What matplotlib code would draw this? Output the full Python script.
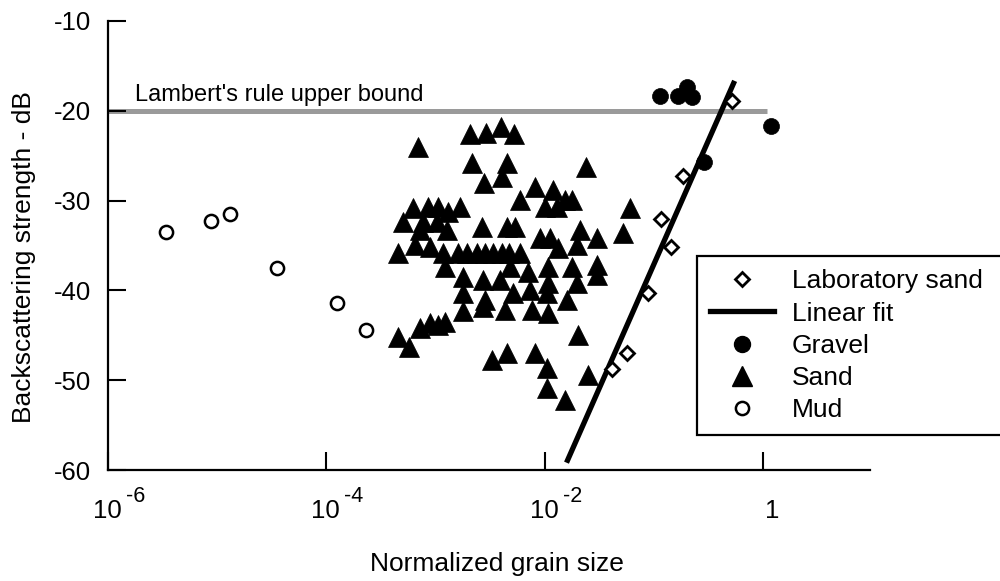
import numpy as np
import matplotlib
matplotlib.use("Agg")
import matplotlib.pyplot as plt
from matplotlib.lines import Line2D
from matplotlib.ticker import NullLocator, FixedLocator

plt.rcParams['font.family'] = ['Liberation Sans', 'DejaVu Sans']
plt.rcParams['axes.unicode_minus'] = False

# ---------------- data (log10 of normalized grain size, dB) ----------------
mud_log10_x = [-5.47, -5.06, -4.88, -4.45, -3.90, -3.64]
mud_db = [-33.5, -32.3, -31.5, -37.5, -41.4, -44.4]

gravel_log10_x = [-0.94, -0.78, -0.70, -0.65, -0.54, 0.07]
gravel_db = [-18.35, -18.35, -17.35, -18.46, -25.7, -21.7]

lab_sand_log10_x = [-0.28, -0.73, -0.93, -0.84, -1.05, -1.25, -1.38]
lab_sand_db = [-18.9, -27.3, -32.0, -35.2, -40.3, -47.0, -48.8]

sand_log10_x = [-2.685, -2.538, -2.401, -2.282, -3.161, -2.667, -2.557, -2.346, -2.392, -1.623,
                -2.090, -1.925, -2.227, -1.815, -1.751, -1.998, -1.888, -1.220, -3.207, -3.070,
                -2.978, -2.886, -2.777, -3.299, -3.115, -2.987, -2.575, -2.346, -2.273, -3.143,
                -2.896, -2.044, -1.952, -1.678, -1.522, -1.284, -3.344, -3.189, -3.051, -2.932,
                -2.795, -2.712, -2.621, -2.548, -2.474, -2.392, -2.330, -2.227, -1.879, -1.705,
                -2.914, -2.749, -2.566, -2.410, -2.319, -2.154, -1.971, -1.751, -1.522, -1.522,
                -2.749, -2.548, -2.291, -2.136, -1.971, -1.705, -1.980, -1.792, -2.364, -2.117,
                -1.971, -2.749, -2.566, -3.344, -3.244, -3.143, -3.051, -2.978, -2.914, -1.696,
                -2.484, -2.346, -2.090, -1.980, -1.604, -1.980, -1.815]
sand_db = [-22.6, -22.5, -21.8, -22.6, -24.0, -25.8, -28.0, -25.8, -27.4, -26.3,
           -28.5, -28.8, -29.9, -29.9, -29.9, -30.7, -30.7, -30.8, -30.8, -30.7,
           -30.7, -31.3, -30.7, -32.4, -32.4, -32.4, -32.9, -32.9, -32.9, -33.3,
           -33.3, -34.2, -34.2, -33.3, -34.2, -33.6, -35.8, -34.9, -35.2, -35.8,
           -35.8, -35.8, -35.8, -35.8, -35.8, -35.8, -35.8, -35.8, -35.3, -34.9,
           -37.4, -38.5, -38.8, -38.8, -37.4, -38.0, -37.4, -37.4, -37.2, -38.3,
           -40.3, -41.1, -40.3, -40.0, -39.2, -39.2, -40.3, -41.1, -42.2, -42.2,
           -42.5, -42.3, -41.8, -45.2, -46.3, -44.2, -43.6, -43.9, -43.5, -45.0,
           -47.8, -47.0, -47.0, -48.6, -49.4, -50.9, -52.2]

fit_intercept_db = -9.5
fit_slope_db_per_decade = 27.6
fit_log10_range = [-1.80, -0.26]

lambert_db = -20.0
lambert_log10_range = [-6.0, 0.04]
lambert_label = "Lambert's rule upper bound"

x_tick_values = [1e-6, 1e-4, 1e-2, 1.0]
x_tick_base = ['10', '10', '10', '1']
x_tick_exp = ['-6', '-4', '-2', '']
y_tick_values = [-10, -20, -30, -40, -50, -60]

legend_labels = ['Laboratory sand', 'Linear fit', 'Gravel', 'Sand', 'Mud']
x_label = 'Normalized grain size'
y_label = 'Backscattering strength - dB'

# ---------------- figure ----------------
fig = plt.figure(figsize=(10, 5.81), dpi=100)
ax = fig.add_axes([0.108, 0.191, 0.762, 0.773])
ax.set_xscale('log')
ax.set_xlim(1e-6, 10 ** 0.98)
ax.set_ylim(-60, -10)

# Lambert line
lx = 10 ** np.array(lambert_log10_range)
ax.plot(lx, [lambert_db, lambert_db], color='#9a9a9a', lw=3.6, solid_capstyle='butt', zorder=1)
ax.text(10 ** -5.753, -18.9, lambert_label, fontsize=17, ha='left', va='baseline')

# Linear fit
fx = np.array(fit_log10_range)
fy = fit_intercept_db + fit_slope_db_per_decade * fx
ax.plot(10 ** fx, fy, color='black', lw=3.8, solid_capstyle='butt', zorder=2)

# Scatter series
ax.plot(10 ** np.array(sand_log10_x), sand_db, ls='none', marker='^', ms=14,
        mfc='black', mec='black', mew=0.5, zorder=3)
ax.plot(10 ** np.array(mud_log10_x), mud_db, ls='none', marker='o', ms=9.5,
        mfc='white', mec='black', mew=1.8, zorder=3)
ax.plot(10 ** np.array(gravel_log10_x), gravel_db, ls='none', marker='o', ms=11.5,
        mfc='black', mec='black', mew=0.5, zorder=4)
ax.plot(10 ** np.array(lab_sand_log10_x), lab_sand_db, ls='none', marker='D', ms=7.5,
        mfc='white', mec='black', mew=2.0, zorder=5)

# Axes styling
for s in ['top', 'right']:
    ax.spines[s].set_visible(False)
for s in ['left', 'bottom']:
    ax.spines[s].set_linewidth(1.6)
ax.xaxis.set_major_locator(FixedLocator(x_tick_values))
ax.xaxis.set_minor_locator(NullLocator())
ax.set_xticklabels([])
ax.set_yticks(y_tick_values)
ax.tick_params(axis='both', direction='in', length=13, width=1.5)
ax.tick_params(axis='y', labelsize=18.5, pad=12)

# x tick labels as base + superscript
for xv, base, ex in zip(x_tick_values, x_tick_base, x_tick_exp):
    ax.annotate(base, xy=(xv, 0), xycoords=ax.get_xaxis_transform(),
                xytext=(-15 if ex else 2, -48), textcoords='offset pixels',
                ha='left', va='baseline', fontsize=18.5, annotation_clip=False)
    if ex:
        ax.annotate(ex, xy=(xv, 0), xycoords=ax.get_xaxis_transform(),
                    xytext=(18, -32), textcoords='offset pixels',
                    ha='left', va='baseline', fontsize=15.5, annotation_clip=False)

ax.set_xlabel(x_label, fontsize=19)
ax.xaxis.set_label_coords(0.510, -0.183)
ax.set_ylabel(y_label, fontsize=19)
ax.yaxis.set_label_coords(-0.094, 0.474)

# Legend
handles = [
    Line2D([], [], ls='none', marker='D', ms=7.5, mfc='white', mec='black', mew=2.0),
    Line2D([], [], color='black', lw=3.8),
    Line2D([], [], ls='none', marker='o', ms=11.5, mfc='black', mec='black'),
    Line2D([], [], ls='none', marker='^', ms=14, mfc='black', mec='black'),
    Line2D([], [], ls='none', marker='o', ms=9.5, mfc='white', mec='black', mew=1.8),
]
leg = fig.legend(handles, legend_labels, loc='upper left',
                 bbox_to_anchor=(0.697, 0.0, 0.36, 0.559), mode='expand',
                 fontsize=19, frameon=True, fancybox=False, borderpad=0.5,
                 handlelength=2.4, handletextpad=0.7, labelspacing=0.31,
                 borderaxespad=0.0)
leg.get_frame().set_edgecolor('black')
leg.get_frame().set_linewidth(1.6)
leg.get_frame().set_alpha(1)

fig.savefig('out.png', dpi=100)
